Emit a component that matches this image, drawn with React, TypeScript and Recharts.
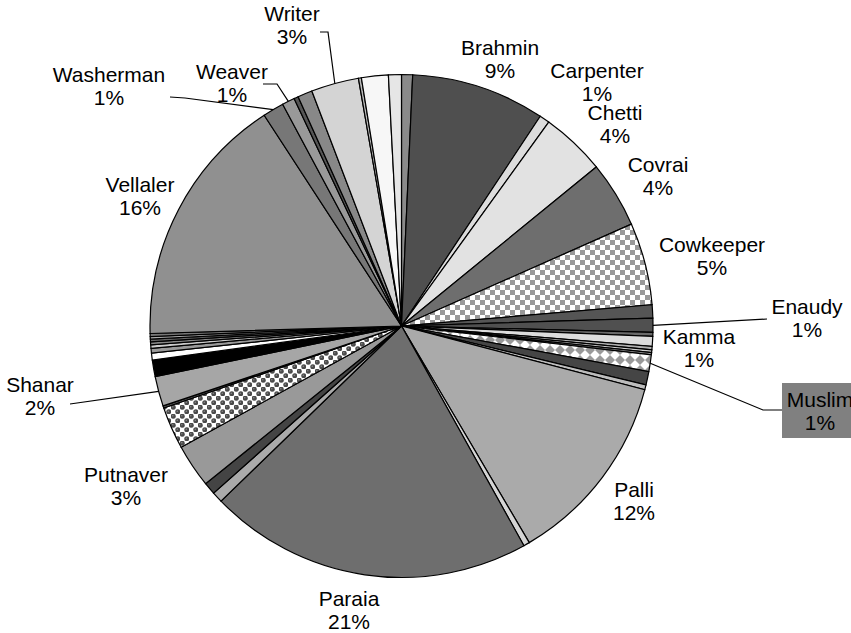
import React from "react";
import { PieChart, Pie, Cell } from "recharts";

// Slices clockwise from 12 o'clock. Unnamed slices carry no label in the original.
const CASTES = [
  "", "Brahmin", "Carpenter", "Chetti", "Covrai", "Cowkeeper", "", "Enaudy", "",
  "Kamma", "", "", "", "Muslim", "", "", "Palli", "", "Paraia", "", "",
  "Putnaver", "", "", "Shanar", "", "", "", "", "", "", "", "", "Vellaler",
  "Washerman", "Weaver", "", "", "Writer", "", "", "",
];

// share of the total, in percent
const SHARES = [
  0.71, 8.59, 0.65, 4.15, 4.26, 5.29, 0.85, 0.9, 0.25,
  0.64, 0.22, 0.17, 0.14, 1.08, 0.86, 0.31, 12.44, 0.39, 20.83, 0.69, 0.78,
  2.78, 2.72, 0.14, 1.92, 1.06, 0.44, 0.31, 0.22, 0.19, 0.17, 0.17, 0.19, 16.28,
  1.36, 0.81, 0.28, 0.94, 3.06, 0.19, 1.72, 0.83,
];

const FILLS = [
  "#8a8a8a", "#4f4f4f", "#dcdcdc", "#e2e2e2", "#6e6e6e", "url(#checker)", "#555555", "#505050", "#6a6a6a",
  "#dddddd", "#b0b0b0", "#d0d0d0", "#999999", "url(#diamond)", "#454545", "#bdbdbd", "#aaaaaa", "#d5d5d5", "#6e6e6e", "#aaaaaa", "#444444",
  "#999999", "url(#dots)", "#555555", "#a6a6a6", "#000000", "#ffffff", "#999999", "#cccccc", "#888888", "#666666", "#aaaaaa", "#777777", "#909090",
  "#777777", "#999999", "#555555", "#888888", "#d4d4d4", "#bbbbbb", "#f7f7f7", "#e6e6e6",
];

const W = 851;
const H = 633;
const CX = 401.5;
const CY = 326;
const R = 251.5;
const LINE = 23;
const FONT = '"Liberation Sans", Arial, Helvetica, sans-serif';

// label anchor: centre x, baseline of first line
const LABEL_POS: Record<string, [number, number]> = {
  Writer: [292, 21],
  Brahmin: [500, 55],
  Carpenter: [597, 78],
  Chetti: [615, 120],
  Covrai: [658, 172],
  Cowkeeper: [712, 252],
  Enaudy: [807, 314],
  Kamma: [699, 344],
  Muslim: [820, 407],
  Palli: [634, 497],
  Paraia: [349, 606],
  Putnaver: [126, 482],
  Shanar: [40, 392],
  Vellaler: [140, 192],
  Washerman: [109, 82],
  Weaver: [232, 79],
};

// leader polylines start here and end on the slice edge
const LEADERS: Record<string, [number, number][]> = {
  Writer: [[320, 32], [328, 32]],
  Weaver: [[263, 84], [277, 84]],
  Washerman: [[170, 97], [185, 98]],
  Shanar: [[70, 404]],
  Enaudy: [[767, 319]],
  Muslim: [[782, 410], [763, 410]],
};

function renderLabel(props: any) {
  const { name, percent, cx, cy, outerRadius } = props;
  const pos = LABEL_POS[name];
  if (!pos) return null;
  const mid = props.midAngle ?? (props.startAngle + props.endAngle) / 2;
  const rad = (-mid * Math.PI) / 180;
  const ex = cx + outerRadius * Math.cos(rad);
  const ey = cy + outerRadius * Math.sin(rad);
  const leader = LEADERS[name];
  const pts = leader ? [...leader, [ex, ey]] : null;
  const pct = `${Math.round(percent * 100)}%`;
  return (
    <g key={`lbl-${name}`}>
      {name === "Muslim" && (
        <rect x={782} y={383} width={80} height={55} fill="#808080" />
      )}
      {pts && (
        <polyline
          points={pts.map((p) => p.join(",")).join(" ")}
          fill="none"
          stroke="#000"
          strokeWidth={1.2}
        />
      )}
      <text
        x={pos[0]}
        y={pos[1]}
        textAnchor="middle"
        fontFamily={FONT}
        fontSize={21}
        fill="#000"
      >
        <tspan x={pos[0]}>{name}</tspan>
        <tspan x={pos[0]} dy={LINE}>
          {pct}
        </tspan>
      </text>
    </g>
  );
}

export default function App() {
  const data = SHARES.map((v, i) => ({ name: CASTES[i], value: v }));
  return (
    <div style={{ position: "absolute", left: 0, top: 0, width: W, height: H, background: "#fff" }}>
      <PieChart width={W} height={H} margin={{ top: 0, right: 0, bottom: 0, left: 0 }}>
        <defs>
          <pattern id="checker" width="10" height="10" patternUnits="userSpaceOnUse">
            <rect width="10" height="10" fill="#ffffff" />
            <rect width="5" height="5" fill="#999999" />
            <rect x="5" y="5" width="5" height="5" fill="#999999" />
          </pattern>
          <pattern id="diamond" width="10" height="10" patternUnits="userSpaceOnUse">
            <rect width="10" height="10" fill="#9a9a9a" />
            <polygon points="5,0 10,5 5,10 0,5" fill="#ffffff" />
          </pattern>
          <pattern id="dots" width="9" height="9" patternUnits="userSpaceOnUse">
            <rect width="9" height="9" fill="#ffffff" />
            <circle cx="2.25" cy="2.25" r="2.5" fill="#4a4a4a" />
            <circle cx="6.75" cy="6.75" r="2.5" fill="#4a4a4a" />
            <circle cx="1.8" cy="1.8" r="0.8" fill="#8a8a8a" />
            <circle cx="6.3" cy="6.3" r="0.8" fill="#8a8a8a" />
          </pattern>
        </defs>
        <Pie
          data={data}
          dataKey="value"
          nameKey="name"
          cx={CX}
          cy={CY}
          outerRadius={R}
          startAngle={90}
          endAngle={-270}
          stroke="#000"
          strokeWidth={1.2}
          label={renderLabel}
          labelLine={false}
          isAnimationActive={false}
        >
          {data.map((d, i) => (
            <Cell key={`c-${i}`} fill={FILLS[i]} />
          ))}
        </Pie>
      </PieChart>
    </div>
  );
}
